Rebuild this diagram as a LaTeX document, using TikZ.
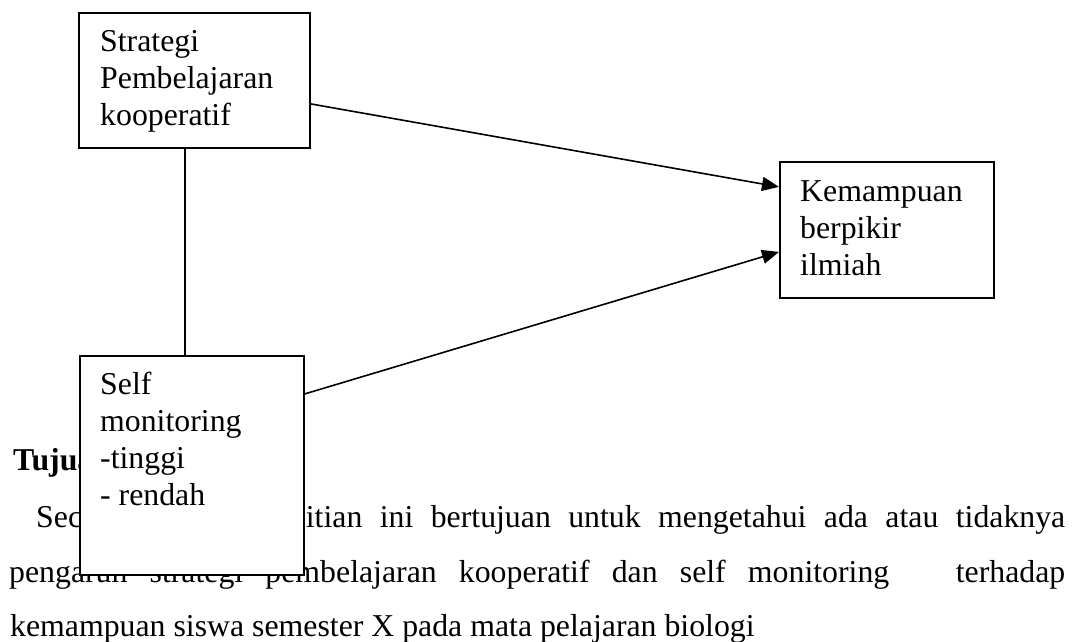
\documentclass[tikz,border=0pt]{standalone}
\usepackage{fontspec}
\setmainfont{Liberation Serif}
\usetikzlibrary{arrows.meta}
\begin{document}
\begin{tikzpicture}[x=1pt,y=-1pt,
  box/.style={draw,line width=1.8pt,fill=white,inner sep=0pt,anchor=north west},
  txt/.style={inner sep=0pt,anchor=base west,align=left,font=\fontsize{31.8}{36.7}\selectfont},
  body/.style={inner sep=0pt,anchor=base west,font=\fontsize{31.8}{38}\selectfont},
  conn/.style={line width=1.6pt},
  arr/.style={line width=1.6pt,-{Triangle[length=17pt,width=14pt]}}]
\useasboundingbox (0,0) rectangle (1073,641);
% background document text
\node[body] (l0) at (13,470) {\bfseries Tujuan};
\node[body] (l1) at (36,527) {\makebox[1029pt][s]{Secara umum penelitian ini bertujuan untuk mengetahui ada atau tidaknya}};
\node[body] (l2) at (9,582) {\makebox[1056pt][s]{pengaruh strategi pembelajaran kooperatif dan self monitoring\ \ \ terhadap}};
\node[body] (l3) at (10,636) {kemampuan siswa semester X pada mata pelajaran biologi};
% boxes
\node[box,minimum width=231pt,minimum height=135pt] (strat) at (78,12) {};
\node[box,minimum width=224pt,minimum height=219pt] (self) at (79,355) {};
\node[box,minimum width=214pt,minimum height=136pt] (kem) at (779,161) {};
% box texts (anchored at the baseline of the last line)
\node[txt] (tstrat) at (100,125) {Strategi\\Pembelajaran\\kooperatif};
\node[txt] (tself) at (100,505) {Self\\monitoring\\-tinggi\\- rendah};
\node[txt] (tkem) at (800,275) {Kemampuan\\berpikir\\ilmiah};
% connectors
\draw[conn] ([xshift=-9.5pt]strat.south) -- ([xshift=-7pt]self.north);
\draw[arr] ([yshift=-23.5pt]strat.east) -- ([yshift=43pt]kem.west);
\draw[arr] ([yshift=71.5pt]self.east) -- ([yshift=-22pt]kem.west);
\end{tikzpicture}
\end{document}
